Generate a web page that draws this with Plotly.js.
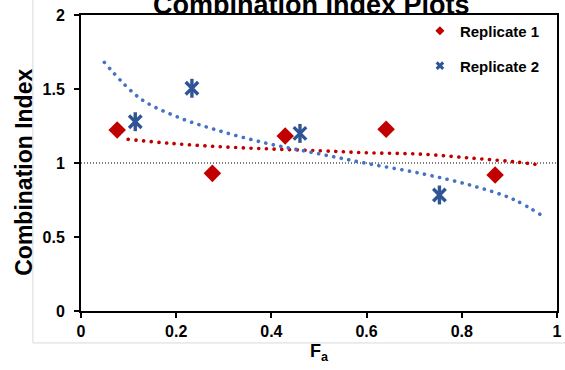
<!DOCTYPE html>
<html>
<head>
<meta charset="utf-8">
<script src="https://cdn.plot.ly/plotly-3.0.1.min.js"></script>
<style>
  html, body { margin: 0; padding: 0; background: #ffffff; }
  #chart { width: 565px; height: 370px; }
  /* round dots for the dotted trend curves */
  #chart .scatterlayer .trace.trend .js-line { stroke-linecap: round !important; }
</style>
</head>
<body>
<div id="chart"></div>
<script>
// Measured combination index values per replicate
var rep1Fa = [0.076, 0.276, 0.429, 0.641, 0.870];
var rep1CI = [1.223, 0.930, 1.182, 1.228, 0.919];

var rep2Fa = [0.114, 0.233, 0.460, 0.753];
var rep2CI = [1.279, 1.505, 1.200, 0.784];

// Fitted trend curves (sampled along the fit)
var fit1Fa = [0.099, 0.187, 0.292, 0.397, 0.502, 0.593, 0.719, 0.824, 0.908, 0.968];
var fit1CI = [1.160, 1.133, 1.110, 1.095, 1.083, 1.070, 1.059, 1.032, 1.009, 0.986];

var fit2Fa = [0.049, 0.124, 0.201, 0.285, 0.390, 0.495, 0.599, 0.719, 0.824, 0.908, 0.970];
var fit2CI = [1.680, 1.437, 1.313, 1.223, 1.133, 1.065, 0.998, 0.926, 0.845, 0.755, 0.642];

// Additivity reference level
var additiveCI = 1;

var xTicks = [0, 0.2, 0.4, 0.6, 0.8, 1];
var yTicks = [0, 0.5, 1, 1.5, 2];

var RED = '#C00000';
var BLUE_MARK = '#2F5597';
var BLUE_FIT = '#4472C4';
var FONT = 'Arial, "Liberation Sans", sans-serif';
var DOTS = '0.1px,7.6px';

var traces = [
  { // trend for replicate 1
    x: fit1Fa, y: fit1CI, type: 'scatter', mode: 'lines',
    line: { color: RED, width: 3.6, dash: DOTS, shape: 'spline' },
    showlegend: false, hoverinfo: 'skip'
  },
  { // trend for replicate 2
    x: fit2Fa, y: fit2CI, type: 'scatter', mode: 'lines',
    line: { color: BLUE_FIT, width: 3.6, dash: DOTS, shape: 'spline' },
    showlegend: false, hoverinfo: 'skip'
  },
  { // replicate 1 points
    x: rep1Fa, y: rep1CI, type: 'scatter', mode: 'markers',
    marker: { symbol: 'diamond', size: 13.5, color: RED, line: { width: 0 } },
    showlegend: false
  },
  { // replicate 2 points: crossed arms
    x: rep2Fa, y: rep2CI, type: 'scatter', mode: 'markers',
    marker: { symbol: 'x-thin-open', size: 12.5, color: BLUE_MARK, line: { width: 3.4, color: BLUE_MARK } },
    showlegend: false
  },
  { // replicate 2 points: vertical arm
    x: rep2Fa, y: rep2CI, type: 'scatter', mode: 'markers',
    marker: { symbol: 'line-ns-open', size: 13.5, color: BLUE_MARK, line: { width: 3.4, color: BLUE_MARK } },
    showlegend: false, hoverinfo: 'skip'
  },
  { // legend key, replicate 1
    x: [null], y: [null], type: 'scatter', mode: 'markers', name: 'Replicate 1',
    marker: { symbol: 'diamond', size: 7, color: RED, line: { width: 0 } },
    legend: 'legend'
  },
  { // legend key, replicate 2
    x: [null], y: [null], type: 'scatter', mode: 'markers', name: 'Replicate 2',
    marker: { symbol: 'x-thin-open', size: 6.5, color: BLUE_MARK, line: { width: 3, color: BLUE_MARK } },
    legend: 'legend2'
  }
];

var legendBase = {
  bgcolor: 'rgba(0,0,0,0)',
  borderwidth: 0,
  font: { family: FONT, size: 15, color: '#000000', weight: 'bold' },
  xanchor: 'left', yanchor: 'middle',
  x: 0.712
};

var layout = {
  width: 565, height: 370,
  margin: { l: 81, r: 8, t: 15, b: 59, pad: 0 },
  paper_bgcolor: '#ffffff',
  plot_bgcolor: '#ffffff',
  font: { family: FONT, color: '#000000' },
  title: {
    text: 'Combination Index Plots',
    font: { family: FONT, size: 27, color: '#000000', weight: 'bold' },
    x: 0.551, xanchor: 'center',
    y: 0.963, yanchor: 'bottom', yref: 'container'
  },
  xaxis: {
    range: [0, 1],
    tickvals: xTicks,
    ticks: 'outside', ticklen: 5, tickwidth: 2, tickcolor: '#000000',
    showline: true, linewidth: 2, linecolor: '#000000', mirror: true,
    showgrid: false, zeroline: false,
    tickfont: { family: FONT, size: 16, color: '#000000', weight: 'bold' },
    title: {
      text: 'F<sub>a</sub>',
      font: { family: FONT, size: 18, color: '#000000', weight: 'bold' },
      standoff: 5
    },
    fixedrange: true
  },
  yaxis: {
    range: [0, 2],
    tickvals: yTicks,
    ticks: 'outside', ticklen: 5, tickwidth: 2, tickcolor: '#000000',
    showline: true, linewidth: 2, linecolor: '#000000', mirror: true,
    showgrid: false, zeroline: false,
    ticklabelstandoff: 6,
    tickfont: { family: FONT, size: 16, color: '#000000', weight: 'bold' },
    fixedrange: true
  },
  legend: Object.assign({}, legendBase, { y: 0.946 }),
  legend2: Object.assign({}, legendBase, { y: 0.828 }),
  annotations: [{
    text: 'Combination Index',
    textangle: -90,
    xref: 'paper', yref: 'paper',
    x: -0.12, y: 0.47,
    xanchor: 'center', yanchor: 'middle',
    showarrow: false,
    font: { family: FONT, size: 23, color: '#000000', weight: 'bold' }
  }],
  shapes: [
    { // additivity line
      type: 'line', xref: 'x', yref: 'y',
      x0: xTicks[0], x1: xTicks[xTicks.length - 1], y0: additiveCI, y1: additiveCI,
      line: { color: '#000000', width: 1, dash: '1px,2px' },
      layer: 'below'
    },
    { // outer frame edges
      type: 'line', xref: 'paper', yref: 'paper',
      x0: -0.101, x1: -0.101, y0: -0.108, y1: 1.06,
      line: { color: '#d9d9d9', width: 1 }
    },
    {
      type: 'line', xref: 'paper', yref: 'paper',
      x0: -0.101, x1: 1.02, y0: -0.108, y1: -0.108,
      line: { color: '#d9d9d9', width: 1 }
    }
  ],
  showlegend: true
};

Plotly.newPlot('chart', traces, layout, { displayModeBar: false, staticPlot: true }).then(function (gd) {
  // tag the two fitted curves so the round-dot style applies to them
  var groups = gd.querySelectorAll('.scatterlayer .trace');
  if (groups[0]) groups[0].classList.add('trend');
  if (groups[1]) groups[1].classList.add('trend');
});
</script>
</body>
</html>
